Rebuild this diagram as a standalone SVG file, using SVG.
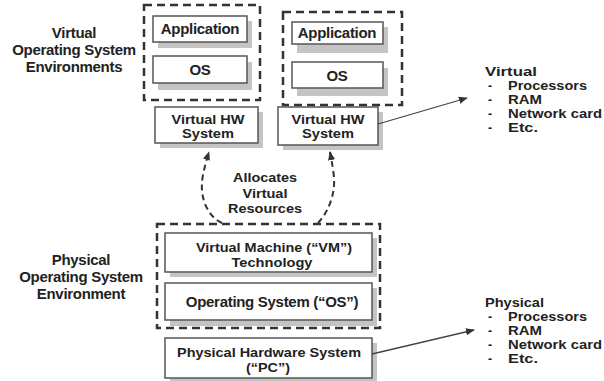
<svg xmlns="http://www.w3.org/2000/svg" width="604" height="381" viewBox="0 0 604 381">
<style>
text{font-family:"Liberation Sans",Arial,sans-serif;font-weight:bold;font-size:15px;fill:#222;letter-spacing:-0.3px}
.c{text-anchor:middle}
.l{font-size:12.3px;letter-spacing:0}
.m{font-size:12.3px;letter-spacing:0}
.k{font-size:13.2px;letter-spacing:0}
.box{fill:#fff;stroke:#555;stroke-width:1.5}
.sh{fill:#c4c4c4}
.env{fill:none;stroke:#333;stroke-width:2.5;stroke-dasharray:8 5}
.dcurve{fill:none;stroke:#333;stroke-width:2;stroke-dasharray:6 4}
.arr{fill:none;stroke:#444;stroke-width:1.3}
</style>
<defs>
<marker id="ah" viewBox="0 0 10 10" refX="9" refY="5" markerWidth="9" markerHeight="9" orient="auto" markerUnits="userSpaceOnUse">
<path d="M0,1 L10,5 L0,9 Z" fill="#333"/>
</marker>
</defs>
<rect width="604" height="381" fill="#fff"/>

<g id="label-virtual-env">
<text class="c" x="74" y="38">Virtual</text>
<text class="c" x="74" y="55">Operating System</text>
<text class="c" x="74" y="72">Environments</text>
</g>

<g id="vm1">
<rect class="env" x="144" y="5" width="116" height="95"/>
</g>
<g id="app1">
<rect class="sh" x="158" y="21" width="94" height="27"/>
<rect class="box" x="153" y="16" width="94" height="26"/>
<text class="c" x="200" y="34">Application</text>
</g>
<g id="os1">
<rect class="sh" x="158" y="62" width="94" height="28"/>
<rect class="box" x="153" y="56" width="94" height="27"/>
<text class="c" x="200" y="75">OS</text>
</g>

<g id="vm2">
<rect class="env" x="283" y="12" width="119" height="93"/>
</g>
<g id="app2">
<rect class="sh" x="297" y="27" width="91" height="26"/>
<rect class="box" x="292" y="22" width="91" height="22"/>
<text class="c" x="337" y="38">Application</text>
</g>
<g id="os2">
<rect class="sh" x="297" y="68" width="91" height="28"/>
<rect class="box" x="292" y="62" width="91" height="26"/>
<text class="c" x="337" y="81">OS</text>
</g>

<g id="vhw1">
<rect class="sh" x="160" y="112" width="103" height="36"/>
<rect class="box" x="155" y="107" width="103" height="36"/>
<text class="c m" x="208" y="124" textLength="73" lengthAdjust="spacingAndGlyphs">Virtual HW</text>
<text class="c m" x="208" y="138" textLength="52" lengthAdjust="spacingAndGlyphs">System</text>
</g>
<g id="vhw2">
<rect class="sh" x="283" y="112" width="100" height="38"/>
<rect class="box" x="278" y="107" width="100" height="38"/>
<text class="c m" x="328" y="124" textLength="73" lengthAdjust="spacingAndGlyphs">Virtual HW</text>
<text class="c m" x="328" y="138" textLength="52" lengthAdjust="spacingAndGlyphs">System</text>
</g>

<g id="label-allocates">
<text class="c k" x="265" y="182" textLength="64" lengthAdjust="spacingAndGlyphs">Allocates</text>
<text class="c k" x="265" y="197.5" textLength="45" lengthAdjust="spacingAndGlyphs">Virtual</text>
<text class="c k" x="265" y="213" textLength="74" lengthAdjust="spacingAndGlyphs">Resources</text>
</g>

<g id="label-physical-env">
<text class="c" x="81" y="265">Physical</text>
<text class="c" x="81" y="282">Operating System</text>
<text class="c" x="81" y="299">Environment</text>
</g>

<g id="host">
<rect class="env" x="157" y="224" width="223" height="104"/>
</g>
<g id="vmtech">
<rect class="sh" x="170" y="238" width="207" height="39"/>
<rect class="box" x="165" y="233" width="207" height="39"/>
<text class="c k" x="274" y="251.5" textLength="156" lengthAdjust="spacingAndGlyphs">Virtual Machine (“VM”)</text>
<text class="c k" x="272" y="267" textLength="81" lengthAdjust="spacingAndGlyphs">Technology</text>
</g>
<g id="hostos">
<rect class="sh" x="170" y="288" width="207" height="38"/>
<rect class="box" x="165" y="283" width="207" height="37"/>
<text class="c" x="272" y="307">Operating System (“OS”)</text>
</g>
<g id="phw">
<rect class="sh" x="170" y="343" width="207" height="40"/>
<rect class="box" x="165" y="338" width="207" height="40"/>
<text class="c k" x="269" y="356.5" textLength="184" lengthAdjust="spacingAndGlyphs">Physical Hardware System</text>
<text class="c k" x="268" y="372" textLength="44" lengthAdjust="spacingAndGlyphs">(“PC”)</text>
</g>

<g id="list-virtual">
<text class="l" x="485" y="76" textLength="52" lengthAdjust="spacingAndGlyphs">Virtual</text>
<text class="l" x="488" y="90">-</text><text class="l" x="508" y="90" textLength="79" lengthAdjust="spacingAndGlyphs">Processors</text>
<text class="l" x="488" y="104">-</text><text class="l" x="508" y="104" textLength="34" lengthAdjust="spacingAndGlyphs">RAM</text>
<text class="l" x="488" y="118">-</text><text class="l" x="508" y="118" textLength="94" lengthAdjust="spacingAndGlyphs">Network card</text>
<text class="l" x="488" y="132">-</text><text class="l" x="508" y="132" textLength="30" lengthAdjust="spacingAndGlyphs">Etc.</text>
</g>
<g id="list-physical">
<text class="l" x="485" y="307" textLength="59" lengthAdjust="spacingAndGlyphs">Physical</text>
<text class="l" x="488" y="321">-</text><text class="l" x="508" y="321" textLength="79" lengthAdjust="spacingAndGlyphs">Processors</text>
<text class="l" x="488" y="335">-</text><text class="l" x="508" y="335" textLength="34" lengthAdjust="spacingAndGlyphs">RAM</text>
<text class="l" x="488" y="349">-</text><text class="l" x="508" y="349" textLength="94" lengthAdjust="spacingAndGlyphs">Network card</text>
<text class="l" x="488" y="363">-</text><text class="l" x="508" y="363" textLength="30" lengthAdjust="spacingAndGlyphs">Etc.</text>
</g>

<g id="connectors">
<path class="dcurve" d="M222,223 C210,218 198,200 203,175 C205,165 207,158 209,152" marker-end="url(#ah)"/>
<path class="dcurve" d="M318,223 C330,210 337,190 333,170 C332,162 331,157 330,152" marker-end="url(#ah)"/>
<path class="arr" d="M378,124 L467,98" marker-end="url(#ah)"/>
<path class="arr" d="M372,354 L474,330" marker-end="url(#ah)"/>
</g>
</svg>
